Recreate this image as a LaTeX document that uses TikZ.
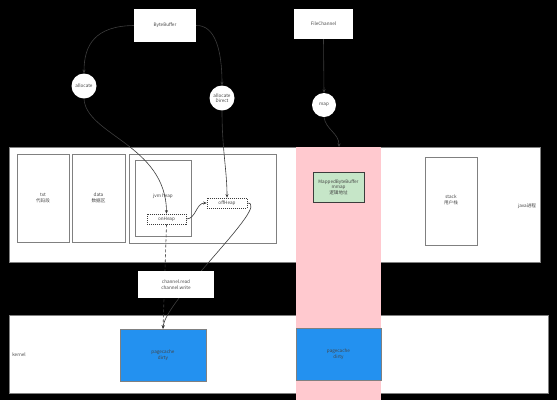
\documentclass[tikz,border=0pt]{standalone}
\usepackage{fontspec}
\setmainfont{Noto Sans CJK SC}
\usetikzlibrary{arrows.meta}
\definecolor{bord}{HTML}{808080}
\definecolor{pinkc}{HTML}{FFC9CF}
\definecolor{greenc}{HTML}{C6E6C8}
\definecolor{bluec}{HTML}{2391F0}
\definecolor{linec}{HTML}{3C3C3C}
\definecolor{txtc}{HTML}{444444}
\tikzset{
  lbl/.style={font=\fontsize{4.6}{5.6}\selectfont, text=txtc, align=center, inner sep=0pt},
  band/.style={fill=white, draw=bord, line width=0.5pt},
  wbox/.style={fill=white, draw=bord, line width=0.7pt},
  dbox/.style={fill=white, draw=linec, dashed, dash pattern=on 1pt off 1pt, line width=0.7pt},
  circ/.style={circle, fill=white, draw=none, minimum size=25pt, inner sep=0pt, font=\fontsize{4.6}{5.6}\selectfont, text=txtc, align=center},
  arr/.style={draw=linec, line width=0.6pt, -{Stealth[length=3.5pt,width=3pt]}},
}
\begin{document}
\begin{tikzpicture}[x=1pt,y=-1pt]
\fill[black] (0,0) rectangle (557,400);
\useasboundingbox (0,0) rectangle (557,400);
% bands
\draw[band] (9,147) rectangle (540,262);
\draw[band] (9,315) rectangle (548,393);
\fill[pinkc] (296,147) rectangle (381,400);
% java band content
\draw[wbox] (17,154) rectangle (69,242);
\node[lbl] (txt) at (43,198) {txt\\代码段};
\draw[wbox] (72,154) rectangle (125,242);
\node[lbl] (data) at (98.5,198) {data\\数据区};
\draw[wbox] (129,154) rectangle (276,243);
\draw[wbox] (135,160) rectangle (191,236);
\node[lbl] (jvm) at (163,196) {jvm heap};
\node[dbox, minimum width=39pt, minimum height=10pt, inner sep=0pt, font=\fontsize{4.6}{5.6}\selectfont, text=txtc] (onheap) at (166.5,219) {onHeap};
\node[dbox, minimum width=40pt, minimum height=10pt, inner sep=0pt, font=\fontsize{4.6}{5.6}\selectfont, text=txtc] (offheap) at (227,203) {offHeap};
\node[draw=linec, line width=0.7pt, fill=greenc, minimum width=51pt, minimum height=30pt, inner sep=0pt, lbl] (mbb) at (338.5,187) {MappedByteBuffer\\mmap\\逻辑地址};
\draw[wbox] (425,157) rectangle (477,245);
\node[lbl] (stack) at (451,200) {stack\\用户栈};
\node[lbl] (java) at (527,206) {java进程};
% kernel
\node[lbl] (kernel) at (19,355) {kernel};
\node[draw=bord, line width=0.5pt, fill=bluec, minimum width=86pt, minimum height=52pt, inner sep=0pt, lbl] (pc1) at (163,355) {pagecache\\dirty};
\node[draw=bord, line width=0.5pt, fill=bluec, minimum width=85pt, minimum height=52pt, inner sep=0pt, lbl] (pc2) at (338.5,354) {pagecache\\dirty};
% top nodes
\node[fill=white, minimum width=62pt, minimum height=33pt, inner sep=0pt, lbl] (bb) at (165,25.5) {ByteBuffer};
\node[fill=white, minimum width=59pt, minimum height=30pt, inner sep=0pt, lbl] (fc) at (323.5,24) {FileChannel};
\node[circ] (alloc) at (84,86) {allocate};
\node[circ] (allocd) at (222,98) {allocate\\Direct};
\node[circ, minimum size=24pt] (map) at (324,105) {map};
\coordinate (pink) at (339,147);
% arrows
\draw[arr] (bb.west) .. controls (95,26) and (84,45) .. (alloc.north);
\draw[arr] (bb.east) .. controls (215,25) and (222,50) .. (allocd.north);
\draw[arr] (alloc.south) .. controls (86,135) and (166,145) .. (onheap.north);
\draw[arr] (allocd.south) .. controls (222,150) and (227,170) .. (offheap.north);
\draw[arr] (onheap.east) .. controls (196,219) and (196,203) .. (offheap.west);
\draw[arr] (offheap.east) .. controls (272,203) and (165,300) .. (pc1.north);
\draw[arr, dashed, dash pattern=on 3pt off 2pt] (onheap.south) -- (pc1.north);
\draw[arr] (fc.south) -- (map.north);
\draw[arr] (map.south) .. controls (326,130) and (339,133) .. (pink);
% channel box on top
\node[fill=white, minimum width=76pt, minimum height=27pt, inner sep=0pt, lbl] (ch) at (176,284.5) {channel.read\\channel.write};
\end{tikzpicture}
\end{document}
